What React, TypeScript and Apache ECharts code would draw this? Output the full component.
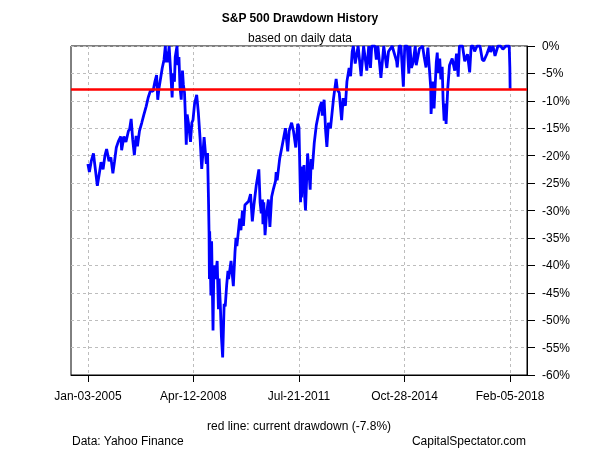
import React, { useEffect, useRef } from "react";
import * as echarts from "echarts";

const pointDates: string[] = [
  "2005-01-03","2005-01-20","2005-02-10","2005-03-07","2005-03-25","2005-04-20","2005-05-10","2005-06-01","2005-06-24","2005-07-15",
  "2005-08-03","2005-08-30","2005-09-20","2005-10-13","2005-11-01","2005-11-21","2005-12-14","2006-01-11","2006-01-20","2006-02-15",
  "2006-03-10","2006-04-07","2006-04-20","2006-05-08","2006-05-25","2006-06-13","2006-07-03","2006-07-18","2006-08-10","2006-09-05",
  "2006-09-29","2006-10-25","2006-11-17","2006-12-15","2007-01-10","2007-02-01","2007-02-20","2007-03-05","2007-03-20","2007-04-10",
  "2007-04-25","2007-05-15","2007-05-30","2007-06-07","2007-06-20","2007-06-26","2007-07-12","2007-07-19","2007-08-01","2007-08-15",
  "2007-08-24","2007-09-10","2007-09-19","2007-10-09","2007-10-19","2007-10-31","2007-11-12","2007-11-26","2007-12-10","2007-12-20",
  "2008-01-02","2008-01-09","2008-01-22","2008-02-01","2008-02-15","2008-03-10","2008-03-25","2008-04-07","2008-04-25","2008-05-19",
  "2008-06-06","2008-06-27","2008-07-15","2008-08-11","2008-09-05","2008-09-19","2008-09-29","2008-10-06","2008-10-10","2008-10-13",
  "2008-10-27","2008-11-04","2008-11-20","2008-11-28","2008-12-08","2008-12-16","2009-01-06","2009-01-20","2009-01-28","2009-02-10",
  "2009-02-23","2009-03-09","2009-03-26","2009-04-07","2009-04-24","2009-05-08","2009-05-15","2009-06-12","2009-07-08","2009-07-27",
  "2009-08-07","2009-08-17","2009-09-18","2009-10-02","2009-10-19","2009-10-30","2009-11-16","2009-12-28","2010-01-19","2010-02-08",
  "2010-02-26","2010-03-24","2010-04-23","2010-05-07","2010-05-20","2010-06-03","2010-06-08","2010-06-18","2010-07-02","2010-07-20",
  "2010-08-09","2010-08-26","2010-09-15","2010-10-06","2010-10-29","2010-11-05","2010-11-16","2010-12-15","2011-01-14","2011-02-18",
  "2011-03-16","2011-04-01","2011-04-29","2011-05-20","2011-06-15","2011-07-07","2011-07-21","2011-08-08","2011-08-12","2011-08-19",
  "2011-08-31","2011-09-09","2011-09-16","2011-09-22","2011-10-03","2011-10-27","2011-11-25","2011-12-07","2011-12-19","2012-01-10",
  "2012-02-03","2012-03-14","2012-04-02","2012-04-10","2012-05-01","2012-05-18","2012-06-01","2012-06-19","2012-07-12","2012-08-16",
  "2012-09-14","2012-09-28","2012-10-19","2012-11-15","2012-12-03","2012-12-28","2013-01-14","2013-02-08","2013-02-25","2013-03-15",
  "2013-03-28","2013-04-18","2013-05-21","2013-06-24","2013-07-22","2013-08-27","2013-09-18","2013-10-08","2013-10-22","2013-11-27",
  "2013-12-13","2013-12-31","2014-02-03","2014-03-07","2014-04-11","2014-04-30","2014-06-10","2014-07-31","2014-08-07","2014-08-29",
  "2014-09-18","2014-10-15","2014-10-31","2014-11-28","2014-12-16","2014-12-29","2015-01-15","2015-02-03","2015-02-27","2015-03-10",
  "2015-04-15","2015-05-21","2015-06-08","2015-06-29","2015-07-20","2015-08-21","2015-08-25","2015-09-16","2015-09-28","2015-10-23",
  "2015-11-03","2015-11-13","2015-12-01","2015-12-14","2015-12-29","2016-01-08","2016-01-20","2016-02-01","2016-02-11","2016-03-01",
  "2016-03-21","2016-04-20","2016-05-19","2016-06-08","2016-06-27","2016-07-11","2016-08-15","2016-09-09","2016-10-10","2016-11-04",
  "2016-11-21","2016-12-13","2016-12-30","2017-01-26","2017-03-01","2017-03-27","2017-04-13","2017-05-17","2017-06-19","2017-06-29",
  "2017-07-26","2017-08-18","2017-09-20","2017-10-20","2017-11-15","2017-12-18","2018-01-26","2018-02-02","2018-02-05"
];

const drawdownPct: number[] = [
  -21.5,-23.0,-21.0,-19.6,-22.0,-25.5,-23.5,-21.2,-22.5,-20.0,
  -18.8,-21.0,-20.3,-23.2,-21.0,-18.5,-17.4,-16.5,-19.0,-16.5,
  -17.5,-15.5,-15.2,-13.3,-17.0,-19.9,-16.4,-18.3,-15.5,-14.0,
  -12.5,-11.0,-9.4,-8.0,-8.3,-6.5,-5.3,-9.8,-7.6,-5.5,
  -4.0,-2.5,0,-3.0,-1.0,-3.0,0,0,-5.5,-9.4,
  -5.0,-6.5,-2.0,0,-3.5,-2.0,-7.5,-9.8,-4.5,-7.0,
  -8.5,-11.5,-18.0,-12.5,-14.0,-17.5,-14.0,-13.5,-10.5,-8.9,
  -12.0,-17.0,-22.4,-16.6,-21.5,-19.5,-27.5,-34.0,-42.5,-33.8,
  -45.5,-35.6,-51.9,-42.0,-40.0,-42.5,-39.2,-48.0,-42.4,-47.0,
  -53.0,-56.8,-47.0,-47.5,-43.5,-41.0,-42.5,-39.2,-43.8,-37.5,
  -35.0,-36.5,-31.5,-33.6,-30.0,-32.8,-29.0,-28.3,-27.0,-32.0,
  -29.0,-25.5,-22.5,-28.5,-30.5,-28.0,-32.5,-28.5,-34.5,-30.5,
  -28.0,-33.0,-27.5,-26.0,-24.6,-23.0,-24.5,-20.5,-18.0,-15.0,
  -19.2,-15.5,-14.0,-15.5,-18.5,-14.2,-14.8,-28.5,-24.5,-27.6,
  -22.0,-25.5,-21.7,-27.0,-30.0,-19.6,-26.2,-20.6,-22.5,-17.7,
  -14.4,-11.1,-10.2,-12.7,-9.8,-15.5,-18.4,-14.0,-15.0,-9.5,
  -6.0,-8.0,-8.5,-13.5,-9.5,-10.9,-6.5,-4.0,-5.5,-1.0,
  0,-3.2,0,-5.5,0,-4.5,0,-4.0,0,0,
  -2.5,0,-5.8,0,-4.0,-1.0,0,-2.8,-3.9,0,
  0,-7.4,0,0,-5.0,0,-4.0,-3.0,0,-3.5,
  -0.5,0,-2.0,-3.9,-0.3,-7.6,-12.4,-6.5,-11.4,-3.0,
  -1.2,-4.9,-2.3,-6.1,-3.8,-9.8,-13.6,-10.5,-14.2,-7.7,
  -3.5,-2.3,-4.5,-1.4,-5.6,0,0,-2.8,-1.5,-4.8,
  0,0,-1.0,0,0,-2.5,-2.7,-1.5,0,-1.1,
  0,-1.8,0,0,-0.6,0,0,-3.9,-7.8
];

const currentDrawdown = -7.8;
const xTickDates: string[] = ["2005-01-03", "2008-04-12", "2011-07-21", "2014-10-28", "2018-02-05"];
const xTickLabels: string[] = ["Jan-03-2005", "Apr-12-2008", "Jul-21-2011", "Oct-28-2014", "Feb-05-2018"];
const titleText = "S&P 500 Drawdown History";
const subtitleText = "based on daily data";
const footnoteText = "red line: current drawdown (-7.8%)";
const sourceText = "Data: Yahoo Finance";
const brandText = "CapitalSpectator.com";

const BASE = Date.UTC(2005, 0, 3);
function dayOf(s: string): number {
  const y = +s.slice(0, 4);
  const m = +s.slice(5, 7) - 1;
  const d = +s.slice(8, 10);
  return Math.round((Date.UTC(y, m, d) - BASE) / 86400000);
}

export default function App() {
  const ref = useRef<HTMLDivElement>(null);
  useEffect(() => {
    if (!ref.current) return;
    const chart = echarts.init(ref.current, null, { renderer: "svg" });
    const seriesData = pointDates.map((d, i) => [dayOf(d), drawdownPct[i]]);
    const tickVals = xTickDates.map(dayOf);
    const first = dayOf(pointDates[0]);
    const last = dayOf(pointDates[pointDates.length - 1]);
    const pad = (last - first) * 0.04;
    const font = "Liberation Sans, Arial, sans-serif";
    chart.setOption({
      animation: false,
      grid: {
        left: 71,
        right: 73,
        top: 46,
        bottom: 75,
        show: true,
        borderColor: "#000",
        borderWidth: 1,
        containLabel: false,
      },
      xAxis: {
        type: "value",
        min: first - pad,
        max: last + pad,
        axisLine: { show: true, onZero: false, lineStyle: { color: "#000", width: 1 } },
        axisTick: { show: true, customValues: tickVals, length: 7, lineStyle: { color: "#000" } },
        axisLabel: {
          customValues: tickVals,
          margin: 15,
          color: "#000",
          fontSize: 12,
          fontFamily: font,
          formatter: (v: number) => {
            const idx = tickVals.indexOf(Math.round(v));
            return idx >= 0 ? xTickLabels[idx] : "";
          },
        },
        splitLine: { show: true, lineStyle: { color: "#bdbdbd", type: [3, 3], width: 1 } },
      },
      yAxis: {
        type: "value",
        position: "right",
        min: -60,
        max: 0,
        interval: 5,
        axisLine: { show: true, onZero: false, lineStyle: { color: "#000", width: 1 } },
        axisTick: { show: true, length: 8, lineStyle: { color: "#000" } },
        axisLabel: {
          margin: 15,
          color: "#000",
          fontSize: 12,
          fontFamily: font,
          formatter: (v: number) => `${v}%`,
        },
        splitLine: { show: true, lineStyle: { color: "#bdbdbd", type: [3, 3], width: 1 } },
      },
      series: [
        {
          type: "line",
          data: seriesData,
          showSymbol: false,
          symbol: "none",
          lineStyle: { color: "#0000ff", width: 2.8 },
          silent: true,
          markLine: {
            silent: true,
            symbol: "none",
            label: { show: false },
            lineStyle: { color: "#ff0000", width: 2.5, type: "solid" },
            data: [{ yAxis: currentDrawdown }],
          },
        },
      ],
      graphic: [
        { type: "text", x: 300, y: 18, style: { text: titleText, font: `bold 12px ${font}`, fill: "#000", textAlign: "center", textVerticalAlign: "middle" } },
        { type: "text", x: 300, y: 38, style: { text: subtitleText, font: `12px ${font}`, fill: "#000", textAlign: "center", textVerticalAlign: "middle" } },
        { type: "text", x: 299, y: 426, style: { text: footnoteText, font: `12px ${font}`, fill: "#000", textAlign: "center", textVerticalAlign: "middle" } },
        { type: "text", x: 72, y: 441, style: { text: sourceText, font: `12px ${font}`, fill: "#000", textAlign: "left", textVerticalAlign: "middle" } },
        { type: "text", x: 526, y: 441, style: { text: brandText, font: `12px ${font}`, fill: "#000", textAlign: "right", textVerticalAlign: "middle" } },
      ],
    });
    return () => chart.dispose();
  }, []);
  return <div ref={ref} style={{ position: "fixed", left: 0, top: 0, width: 600, height: 450 }} />;
}
